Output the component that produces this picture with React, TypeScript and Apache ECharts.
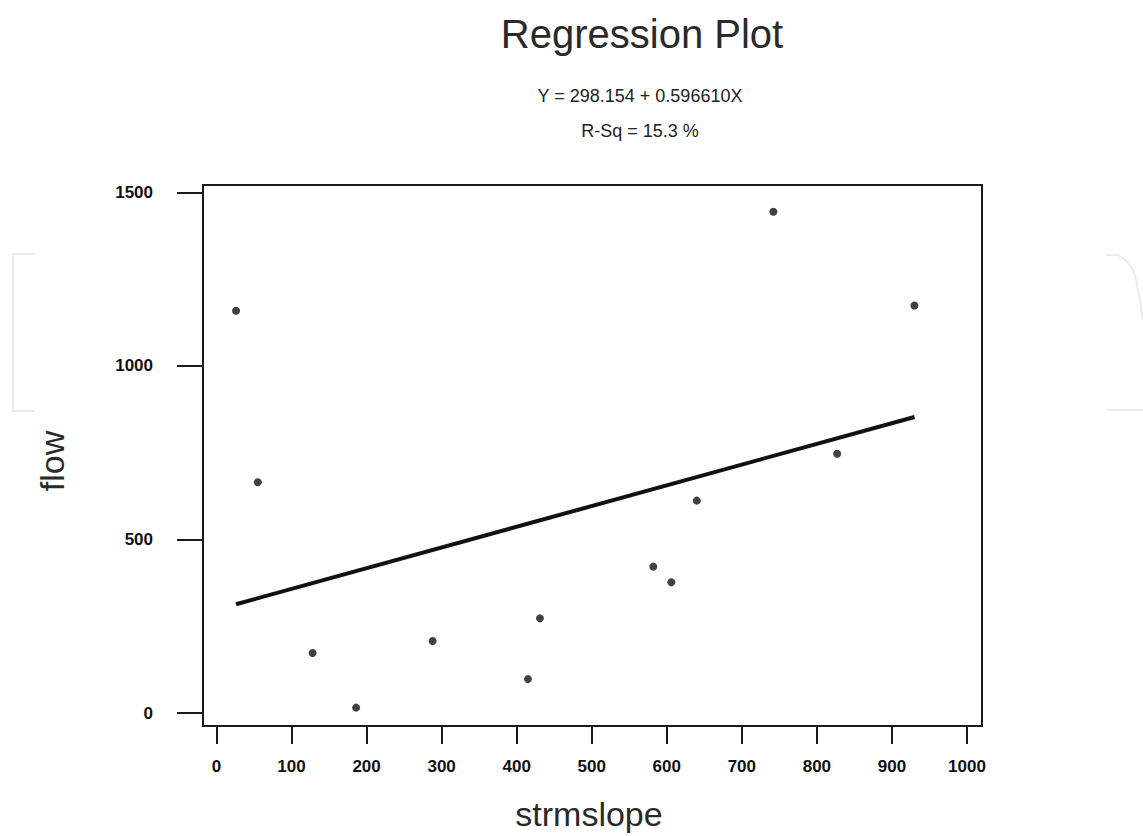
import React, { useEffect, useRef } from "react";
import * as echarts from "echarts";

// Data
const strmslope = [26, 55, 128, 186, 288, 415, 431, 582, 606, 640, 827, 742, 930];
const flow = [1159, 665, 173, 16, 208, 98, 273, 422, 377, 612, 747, 1444, 1174];
const xTicks = [0, 100, 200, 300, 400, 500, 600, 700, 800, 900, 1000];
const yTicks = [0, 500, 1000, 1500];
const intercept = 298.154;
const slope = 0.59661;
const titleText = "Regression Plot";
const equationText = "Y = 298.154 + 0.596610X";
const rsqText = "R-Sq = 15.3 %";
const xName = "strmslope";
const yName = "flow";

export default function App() {
  const ref = useRef<HTMLDivElement>(null);
  useEffect(() => {
    if (!ref.current) return;
    const chart = echarts.init(ref.current, null, { renderer: "svg" });
    const points = strmslope.map((x, i) => [x, flow[i]]);
    const xmin = Math.min(...strmslope);
    const xmax = Math.max(...strmslope);
    const fit = [
      [xmin, intercept + slope * xmin],
      [xmax, intercept + slope * xmax],
    ];
    const labelFont = {
      fontFamily: "Liberation Sans, Arial, sans-serif",
      fontSize: 17,
      fontWeight: "bold" as const,
      color: "#111",
      formatter: (v: number) => String(v),
    };
    chart.setOption({
      animation: false,
      backgroundColor: "#ffffff",
      grid: {
        left: 203,
        top: 185,
        right: 161,
        bottom: 110,
        show: true,
        borderColor: "#1a1a1a",
        borderWidth: 2,
        backgroundColor: "transparent",
      },
      xAxis: {
        type: "value",
        min: -18,
        max: 1020,
        splitLine: { show: false },
        axisLine: { show: true, onZero: false, lineStyle: { color: "#1a1a1a", width: 2 } },
        axisTick: {
          show: true,
          length: 18,
          customValues: xTicks,
          lineStyle: { color: "#1a1a1a", width: 2 },
        },
        axisLabel: { ...labelFont, margin: 32, customValues: xTicks },
      },
      yAxis: {
        type: "value",
        min: -37,
        max: 1521,
        splitLine: { show: false },
        axisLine: { show: true, onZero: false, lineStyle: { color: "#1a1a1a", width: 2 } },
        axisTick: {
          show: true,
          length: 26,
          customValues: yTicks,
          lineStyle: { color: "#1a1a1a", width: 2 },
        },
        axisLabel: { ...labelFont, margin: 50, customValues: yTicks },
      },
      series: [
        {
          type: "line",
          data: fit,
          symbol: "none",
          lineStyle: { color: "#111", width: 4 },
          silent: true,
          z: 2,
        },
        {
          type: "scatter",
          data: points,
          symbol: "circle",
          symbolSize: 8,
          itemStyle: { color: "#111" },
          z: 3,
        },
      ],
      graphic: [
        {
          type: "polyline",
          shape: { points: [[35, 254], [13, 254], [13, 411], [35, 411]] },
          style: { stroke: "#ebebeb", lineWidth: 2, fill: "none" },
          silent: true,
        },
        {
          type: "polyline",
          shape: { points: [[1106, 255], [1118, 255], [1128, 262], [1134, 272], [1137, 285], [1140, 300], [1143, 320]] },
          style: { stroke: "#ebebeb", lineWidth: 2, fill: "none" },
          silent: true,
        },
        {
          type: "line",
          shape: { x1: 1106, y1: 410, x2: 1143, y2: 410 },
          style: { stroke: "#ebebeb", lineWidth: 2 },
          silent: true,
        },
        {
          type: "text",
          x: 642,
          y: 34,
          style: {
            text: titleText,
            fontFamily: "Liberation Sans, Arial, sans-serif",
            fontSize: 40,
            fill: "#2a2a2a",
            textAlign: "center",
            textVerticalAlign: "middle",
          },
        },
        {
          type: "text",
          x: 640,
          y: 96,
          style: {
            text: equationText,
            fontFamily: "Liberation Sans, Arial, sans-serif",
            fontSize: 18,
            fill: "#222",
            textAlign: "center",
            textVerticalAlign: "middle",
          },
        },
        {
          type: "text",
          x: 640,
          y: 131,
          style: {
            text: rsqText,
            fontFamily: "Liberation Sans, Arial, sans-serif",
            fontSize: 18,
            fill: "#222",
            textAlign: "center",
            textVerticalAlign: "middle",
          },
        },
        {
          type: "text",
          x: 589,
          y: 814,
          style: {
            text: xName,
            fontFamily: "Liberation Sans, Arial, sans-serif",
            fontSize: 34,
            fill: "#2a2a2a",
            textAlign: "center",
            textVerticalAlign: "middle",
          },
        },
        {
          type: "text",
          x: 52,
          y: 461,
          rotation: Math.PI / 2,
          style: {
            text: yName,
            fontFamily: "Liberation Sans, Arial, sans-serif",
            fontSize: 34,
            fill: "#2a2a2a",
            textAlign: "center",
            textVerticalAlign: "middle",
          },
        },
      ],
    });
    return () => chart.dispose();
  }, []);
  return (
    <div
      ref={ref}
      style={{ position: "absolute", left: 0, top: 0, width: 1143, height: 836 }}
    />
  );
}
